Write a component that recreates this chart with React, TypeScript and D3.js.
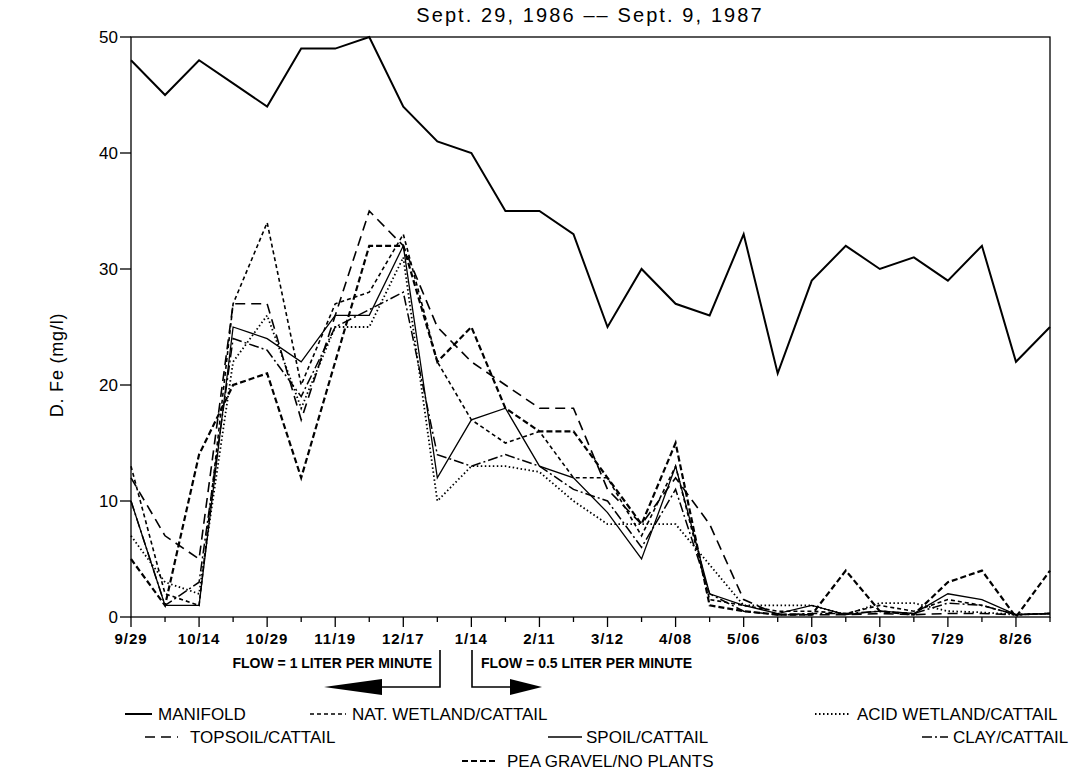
import React from "react";
import * as d3 from "d3";

const W = 1072;
const H = 778;

const xLabels = ["9/29", "10/14", "10/29", "11/19", "12/17", "1/14", "2/11", "3/12", "4/08", "5/06", "6/03", "6/30", "7/29", "8/26"];
const yTicks = [0, 10, 20, 30, 40, 50];

const manifold = [48, 45, 48, 46, 44, 49, 49, 50, 44, 41, 40, 35, 35, 33, 25, 30, 27, 26, 33, 21, 29, 32, 30, 31, 29, 32, 22, 25];
const natWetland = [13, 2, 1, 27, 34, 20, 27, 28, 33, 22, 17, 15, 16, 12, 12, 7, 13, 1.5, 1, 0.5, 0.5, 0.3, 1, 0.5, 1.5, 1, 0.2, 0.3];
const acidWetland = [7, 3, 2, 22, 26, 18, 25, 25, 31, 10, 13, 13, 12.5, 10, 8, 8, 8, 4.5, 1, 1, 1, 0.2, 1.2, 1.2, 0.5, 0.4, 0.2, 0.3];
const topsoil = [12, 7, 5, 27, 27, 17, 26, 35, 32, 25, 22, 20, 18, 18, 11, 8, 12, 8, 1.5, 0.2, 0.2, 0.2, 0.3, 0.2, 0.3, 0.3, 0.2, 0.3];
const spoil = [10, 1, 1, 25, 24, 22, 26, 26, 32, 12, 17, 18, 13, 12, 9, 5, 13, 2, 1, 0.3, 1, 0.2, 0.5, 0.3, 2, 1.5, 0.2, 0.3];
const clay = [10, 1, 3, 24, 23, 19, 25, 26.5, 28, 14, 13, 14, 13, 11, 10, 6, 11, 2, 0.5, 0.2, 0.3, 0.3, 0.5, 0.3, 1.2, 1, 0.2, 0.3];
const peaGravel = [5, 1, 14, 20, 21, 12, 22, 32, 32, 22, 25, 18, 16, 16, 12, 8, 15, 1, 0.5, 0.2, 0.2, 4, 0.5, 0.2, 3, 4, 0, 4];

const seriesNames = ["MANIFOLD", "NAT. WETLAND/CATTAIL", "ACID WETLAND/CATTAIL", "TOPSOIL/CATTAIL", "SPOIL/CATTAIL", "CLAY/CATTAIL", "PEA GRAVEL/NO PLANTS"];
const seriesData = [manifold, natWetland, acidWetland, topsoil, spoil, clay, peaGravel];

const styles = [
  { dash: "", width: 2 },
  { dash: "4,3", width: 1.6 },
  { dash: "1.5,2.5", width: 1.8 },
  { dash: "10,6", width: 1.6 },
  { dash: "", width: 1.3 },
  { dash: "10,3,2,3", width: 1.5 },
  { dash: "6,3", width: 2.2 },
];

// legend layout: [lineX1, lineX2, textX, y]
const legendPos = [
  [125, 152, 158, 714],
  [310, 346, 352, 714],
  [815, 851, 857, 714],
  [145, 178, 190, 737],
  [548, 582, 586, 737],
  [922, 948, 953, 737],
  [462, 498, 507, 761],
];

export default function App() {
  const left = 131, right = 1050, top = 37, bottom = 617;
  const n = manifold.length;
  const x = d3.scaleLinear().domain([0, n - 1]).range([left, right]);
  const y = d3.scaleLinear().domain([0, 50]).range([bottom, top]);
  const line = d3.line<number>().x((_, i) => x(i)).y((d) => y(d));
  const font = "'Liberation Sans', Arial, sans-serif";

  return (
    <svg width={W} height={H} style={{ position: "absolute", left: 0, top: 0, background: "#fff" }} fontFamily={font}>
      <rect x={0} y={0} width={W} height={H} fill="#fff" />
      <text x={590} y={22} fontSize={20} letterSpacing={2.1} textAnchor="middle" fill="#000">Sept. 29, 1986 –– Sept. 9, 1987</text>

      {/* frame */}
      <rect x={left} y={top} width={right - left} height={bottom - top} fill="none" stroke="#000" strokeWidth={1.3} />

      {/* y ticks */}
      {yTicks.map((t) => (
        <g key={"y" + t}>
          <line x1={left - 11} x2={left} y1={y(t)} y2={y(t)} stroke="#000" strokeWidth={1.3} />
          <text x={118} y={y(t) + 6} fontSize={17} textAnchor="end">{t}</text>
        </g>
      ))}
      <text transform={`translate(63,${365}) rotate(-90)`} fontSize={18} letterSpacing={0.8} textAnchor="middle">D. Fe (mg/l)</text>

      {/* x ticks */}
      {d3.range(n).map((i) => (
        <line key={"xt" + i} x1={x(i)} x2={x(i)} y1={bottom} y2={bottom + (i % 2 === 0 ? 10 : 5)} stroke="#000" strokeWidth={1.3} />
      ))}
      {xLabels.map((l, k) => (
        <text key={"xl" + l} x={x(k * 2)} y={644} fontSize={15} fontWeight="bold" letterSpacing={1} textAnchor="middle">{l}</text>
      ))}

      {/* series */}
      {seriesData.map((s, i) => (
        <path key={"s" + i} d={line(s) || ""} fill="none" stroke="#000" strokeWidth={styles[i].width} strokeDasharray={styles[i].dash} strokeLinejoin="miter" />
      ))}

      {/* flow annotations */}
      <text x={432} y={668} fontSize={14} fontWeight="bold" textAnchor="end">FLOW = 1 LITER PER MINUTE</text>
      <text x={481} y={668} fontSize={14} fontWeight="bold" textAnchor="start">FLOW = 0.5 LITER PER MINUTE</text>
      <path d="M440,650 L440,687 L382,687" fill="none" stroke="#000" strokeWidth={1.6} />
      <path d="M382,679 L382,695 L324,687 Z" fill="#000" />
      <path d="M472,650 L472,687 L510,687" fill="none" stroke="#000" strokeWidth={1.6} />
      <path d="M510,679 L510,695 L542,687 Z" fill="#000" />

      {/* legend */}
      {seriesNames.map((nm, i) => {
        const [x1, x2, tx, ly] = legendPos[i];
        return (
          <g key={"lg" + i}>
            <line x1={x1} x2={x2} y1={ly} y2={ly} stroke="#000" strokeWidth={styles[i].width} strokeDasharray={styles[i].dash} />
            <text x={tx} y={ly + 6} fontSize={17}>{nm}</text>
          </g>
        );
      })}
    </svg>
  );
}
